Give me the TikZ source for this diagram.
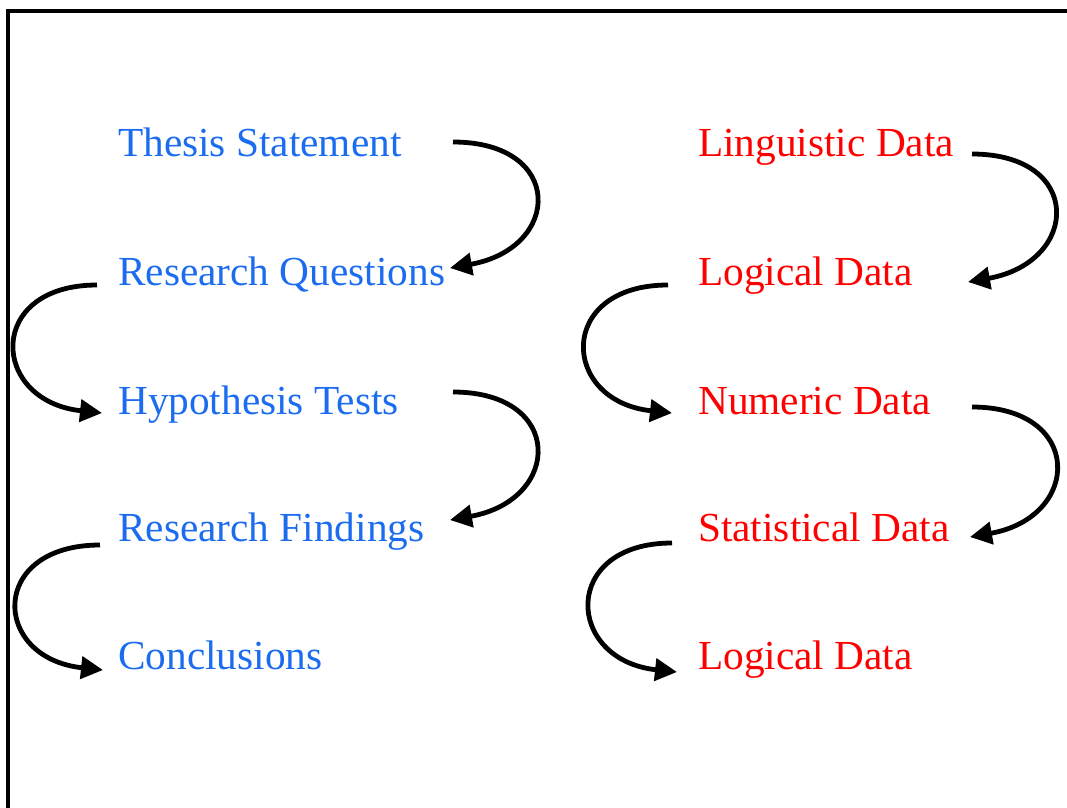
\documentclass[tikz,border=0pt]{standalone}
\usepackage{fontspec}
\setmainfont{Liberation Serif}
\usetikzlibrary{arrows.meta}
\definecolor{tblue}{RGB}{28,108,240}
\definecolor{tred}{RGB}{255,0,0}
\tikzset{
  lbl/.style={anchor=base west, inner sep=0pt, font=\fontsize{41.3}{48}\selectfont},
  lft/.style={lbl, text=tblue},
  rgt/.style={lbl, text=tred},
  curv/.style={line width=4.8pt, -{Triangle[length=22pt,width=22pt]}},
  frame/.style={line width=3.2pt}
}
\begin{document}
\begin{tikzpicture}[x=1pt,y=-1pt]
\useasboundingbox (0,0) rectangle (1067,807);
\draw[frame] (8,815) -- (8,11) -- (1075,11);

\node[lft] (ts) at (118,156) {Thesis Statement};
\node[lft] (rq) at (118,285) {Research Questions};
\node[lft] (ht) at (118,414) {Hypothesis Tests};
\node[lft] (rf) at (118,541) {Research Findings};
\node[lft] (co) at (118,669) {Conclusions};

\node[rgt] (ld)  at (698,156) {Linguistic Data};
\node[rgt] (lo1) at (698,285) {Logical Data};
\node[rgt] (nd)  at (698,414) {Numeric Data};
\node[rgt] (sd)  at (698,541) {Statistical Data};
\node[rgt] (lo2) at (698,669) {Logical Data};

% left column
\draw[curv] ([shift={(335,-14)}]ts.base west) .. controls +(112,0) and +(112,-20) .. ([shift={(332,-17)}]rq.base west);
\draw[curv] ([shift={(-21,0)}]rq.base west) .. controls +(-112,0) and +(-112,-12) .. ([shift={(-16,-1)}]ht.base west);
\draw[curv] ([shift={(335,-22)}]ht.base west) .. controls +(112,0) and +(112,-20) .. ([shift={(332,-21)}]rf.base west);
\draw[curv] ([shift={(-18,4)}]rf.base west) .. controls +(-112,0) and +(-112,-12) .. ([shift={(-15,1)}]co.base west);

% right column
\draw[curv] ([shift={(274,-2)}]ld.base west) .. controls +(112,0) and +(112,-20) .. ([shift={(270,-3)}]lo1.base west);
\draw[curv] ([shift={(-30,0)}]lo1.base west) .. controls +(-112,0) and +(-112,-12) .. ([shift={(-26,-1)}]nd.base west);
\draw[curv] ([shift={(274,-7)}]nd.base west) .. controls +(112,0) and +(112,-20) .. ([shift={(272,-4)}]sd.base west);
\draw[curv] ([shift={(-26,2)}]sd.base west) .. controls +(-112,0) and +(-112,-12) .. ([shift={(-21,3)}]lo2.base west);
\end{tikzpicture}
\end{document}
